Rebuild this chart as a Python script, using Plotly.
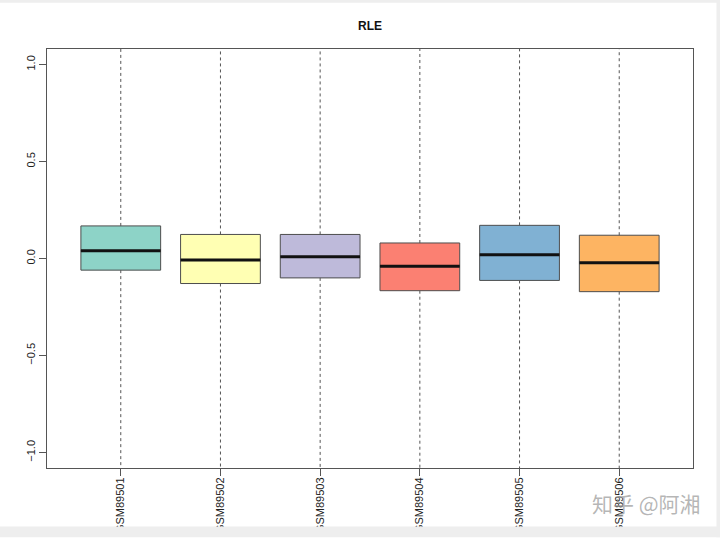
import plotly.graph_objects as go

samples = ["GSM89501", "GSM89502", "GSM89503", "GSM89504", "GSM89505", "GSM89506"]
q1 = [-0.060, -0.129, -0.100, -0.166, -0.113, -0.171]
median = [0.040, -0.008, 0.009, -0.040, 0.019, -0.022]
q3 = [0.168, 0.124, 0.124, 0.080, 0.171, 0.120]
lower_whisker = [-1.6, -1.6, -1.6, -1.6, -1.6, -1.6]
upper_whisker = [1.6, 1.6, 1.6, 1.6, 1.6, 1.6]
colors = ["#8DD3C7", "#FFFFB3", "#BEBADA", "#FB8072", "#80B1D3", "#FDB462"]
ytick_vals = [-1.0, -0.5, 0.0, 0.5, 1.0]
ytick_text = ["\u22121.0", "\u22120.5", "0.0", "0.5", "1.0"]

positions = list(range(1, len(samples) + 1))
half = 0.4

W, H = 720, 545
L, R, T, B = 47, 27, 49, 66
PW, PH = W - L - R, H - T - B


def px_x(px):
    return (px - L) / PW


def px_y(py):
    return 1 - (py - T) / PH


fig = go.Figure()

# whiskers (dashed, R style)
for i, p in enumerate(positions):
    fig.add_trace(go.Scatter(
        x=[p, p], y=[q3[i], upper_whisker[i]], mode="lines",
        line=dict(color="#555555", width=1, dash="3px,3px"),
        hoverinfo="skip", showlegend=False))
    fig.add_trace(go.Scatter(
        x=[p, p], y=[q1[i], lower_whisker[i]], mode="lines",
        line=dict(color="#555555", width=1, dash="3px,3px"),
        hoverinfo="skip", showlegend=False))

# boxes
for i, p in enumerate(positions):
    fig.add_trace(go.Box(
        x=[p], q1=[q1[i]], median=[median[i]], q3=[q3[i]],
        lowerfence=[q1[i]], upperfence=[q3[i]],
        width=2 * half, fillcolor=colors[i],
        line=dict(color="#4d4d4d", width=1),
        whiskerwidth=0, showlegend=False, name=samples[i]))

# thick medians
for i, p in enumerate(positions):
    fig.add_trace(go.Scatter(
        x=[p - half, p + half], y=[median[i], median[i]], mode="lines",
        line=dict(color="#111111", width=3),
        hoverinfo="skip", showlegend=False))

frame = dict(type="rect", xref="paper", yref="paper", layer="above",
             line=dict(width=0), fillcolor="#eeeeee")

fig.update_layout(
    width=W, height=H,
    margin=dict(l=L, r=R, t=T, b=B),
    paper_bgcolor="white", plot_bgcolor="white",
    font=dict(family="Liberation Sans, Arial, sans-serif", color="#222222", size=11),
    title=dict(text="<b>RLE</b>", x=(L + 693) / 2 / W, xanchor="center",
               y=1 - 26 / H, yanchor="middle",
               font=dict(size=12, color="#111111")),
    xaxis=dict(range=[0.26, 6.74], tickvals=positions, ticktext=samples,
               tickangle=-90, ticks="outside", ticklen=7, tickcolor="#555555",
               ticklabelstandoff=-3,
               showgrid=False, zeroline=False, showline=True, linecolor="#555555",
               linewidth=1, mirror=True, tickfont=dict(size=11)),
    yaxis=dict(range=[-1.08, 1.08], tickvals=ytick_vals, ticktext=ytick_text,
               tickangle=-90, ticks="outside", ticklen=7, tickcolor="#555555",
               showgrid=False, zeroline=False, showline=True, linecolor="#555555",
               linewidth=1, mirror=True, tickfont=dict(size=11)),
    shapes=[
        dict(frame, x0=px_x(-5), x1=px_x(725), y0=px_y(550), y1=px_y(539)),
        dict(frame, x0=px_x(-5), x1=px_x(725), y0=px_y(1.5), y1=px_y(-5)),
        dict(frame, x0=px_x(716.5), x1=px_x(725), y0=px_y(550), y1=px_y(-5)),
    ],
    annotations=[
        dict(text="知乎 @阿湘", xref="paper", yref="paper",
             x=px_x(703), y=px_y(515),
             xanchor="right", yanchor="middle", showarrow=False,
             font=dict(size=21, color="rgba(150,150,150,0.7)",
                       family="Noto Sans CJK SC")),
    ],
)

fig.write_html("out.html")
